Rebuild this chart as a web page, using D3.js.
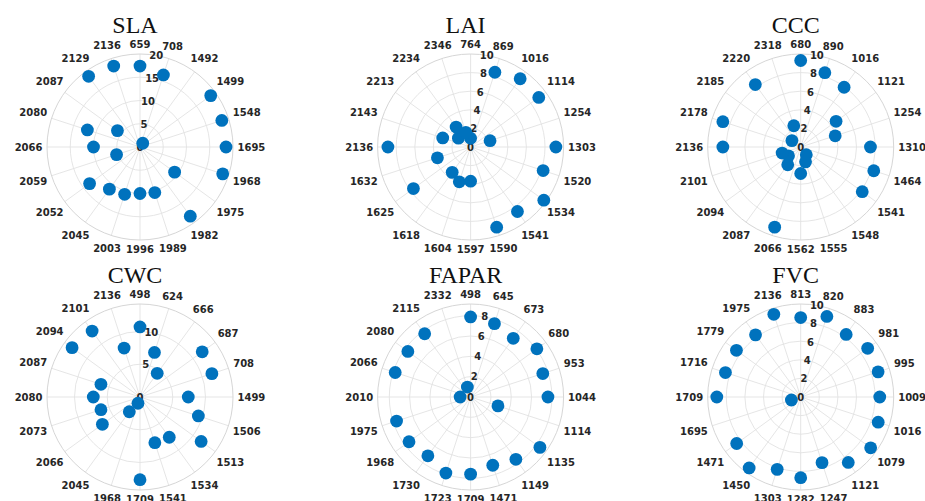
<!DOCTYPE html>
<html>
<head>
<meta charset="utf-8">
<script src="https://cdn.jsdelivr.net/npm/d3@7"></script>
<style>
  html, body { margin: 0; padding: 0; background: #fff; }
  svg { display: block; }
</style>
</head>
<body>
<svg id="chart" width="925" height="501"></svg>
<script>
// Band centres (nm) and per-band scores for each trait
const slaBands = ["659","708","1492","1499","1548","1695","1968","1975","1982","1989","1996","2003","2045","2052","2059","2066","2080","2087","2129","2136"];
const slaValues = [17.4, 16.3, 1.0, 18.8, 18.5, 18.5, 18.7, 9.2, 18.4, 10.3, 10.0, 10.7, 11.2, 13.4, 5.3, 10.0, 11.9, 6.0, 18.8, 18.3];
const slaTicks = [0, 5, 10, 15, 20];

const laiBands = ["764","869","1016","1114","1254","1303","1520","1534","1541","1590","1597","1604","1618","1625","1632","2136","2143","2213","2234","2346"];
const laiValues = [0.94, 8.45, 9.07, 9.06, 2.2, 9.17, 8.2, 9.73, 8.57, 9.07, 3.68, 3.94, 3.37, 7.6, 3.75, 8.89, 3.15, 1.62, 2.65, 1.66];
const laiTicks = [0, 2, 4, 6, 8, 10];

const cccBands = ["680","890","1016","1121","1254","1310","1464","1541","1548","1555","1562","2066","2087","2094","2101","2136","2178","2185","2220","2318"];
const cccValues = [9.3, 8.4, 7.94, 4.7, 3.9, 7.5, 8.26, 8.18, 1.02, 1.68, 2.85, 9.06, 2.37, 1.62, 2.1, 8.37, 8.8, 1.17, 8.3, 2.4];
const cccTicks = [0, 2, 4, 6, 8, 10];

const cwcBands = ["498","624","666","687","708","1499","1506","1513","1534","1541","1709","1968","2045","2066","2073","2080","2087","2094","2101","2136"];
const cwcValues = [10.7, 7.15, 4.47, 11.74, 11.54, 7.37, 9.37, 11.54, 7.6, 7.34, 12.63, 1.0, 2.78, 7.1, 6.27, 7.13, 6.27, 12.82, 12.44, 7.86];
const cwcTicks = [0, 5, 10];

const faparBands = ["498","645","673","680","953","1044","1114","1135","1149","1471","1709","1723","1730","1968","1975","2010","2066","2080","2115","2332"];
const faparValues = [7.88, 7.59, 7.14, 8.06, 7.47, 7.61, 2.83, 8.43, 7.58, 7.06, 7.59, 7.87, 7.15, 7.49, 7.66, 1.03, 7.8, 7.63, 7.69, 1.03];
const faparTicks = [0, 2, 4, 6, 8];

const fvcBands = ["813","820","883","981","995","1009","1016","1079","1121","1247","1282","1303","1450","1471","1695","1709","1716","1779","1975","2136"];
const fvcValues = [8.54, 9.11, 8.32, 8.9, 8.75, 8.5, 8.76, 9.3, 8.7, 7.42, 8.68, 8.18, 9.43, 8.51, 1.05, 9.02, 8.51, 8.54, 8.26, 9.35];
const fvcTicks = [0, 2, 4, 6, 8, 10];

const titles = ["SLA", "LAI", "CCC", "CWC", "FAPAR", "FVC"];
const radialMax = [20, 10, 10, 14.2, 9.15, 10];

const panels = [
  { title: titles[0], bands: slaBands, values: slaValues, ticks: slaTicks, rmax: radialMax[0] },
  { title: titles[1], bands: laiBands, values: laiValues, ticks: laiTicks, rmax: radialMax[1] },
  { title: titles[2], bands: cccBands, values: cccValues, ticks: cccTicks, rmax: radialMax[2] },
  { title: titles[3], bands: cwcBands, values: cwcValues, ticks: cwcTicks, rmax: radialMax[3] },
  { title: titles[4], bands: faparBands, values: faparValues, ticks: faparTicks, rmax: radialMax[4] },
  { title: titles[5], bands: fvcBands, values: fvcValues, ticks: fvcTicks, rmax: radialMax[5] }
];

// Layout of the 3 x 2 grid of polar panels
const centersX = [140, 470.6, 800.7];
const centersY = [147, 397];
const R = 93;
const gridColor = "#e2e2e2";
const spineColor = "#d6d6d6";
const textColor = "#262626";
const dotColor = "#0072BD";
const rLabelAngle = 10 * Math.PI / 180;

const svg = d3.select("#chart");

panels.forEach((p, k) => {
  const cx = centersX[k % 3];
  const cy = centersY[Math.floor(k / 3)];
  const g = svg.append("g").attr("transform", `translate(${cx},${cy})`);

  // angle: clockwise from north, one band every 360/N degrees
  const theta = d3.scaleBand().domain(p.bands).range([0, 2 * Math.PI]).paddingInner(0).paddingOuter(0);
  const r = d3.scaleLinear().domain([0, p.rmax]).range([0, R]);
  const px = (a, rr) => rr * Math.sin(a);
  const py = (a, rr) => -rr * Math.cos(a);

  // spokes
  g.append("g").selectAll("line").data(p.bands).join("line")
    .attr("x1", 0).attr("y1", 0)
    .attr("x2", d => px(theta(d), R))
    .attr("y2", d => py(theta(d), R))
    .attr("stroke", gridColor).attr("stroke-width", 0.9);

  // radial grid circles
  g.append("g").selectAll("circle").data(p.ticks.filter(t => t > 0 && r(t) < R - 0.5)).join("circle")
    .attr("r", d => r(d))
    .attr("fill", "none").attr("stroke", gridColor).attr("stroke-width", 0.9);

  // outer boundary
  g.append("circle").attr("r", R).attr("fill", "none").attr("stroke", spineColor).attr("stroke-width", 1);

  // radial tick labels
  g.append("g").selectAll("text").data(p.ticks).join("text")
    .attr("x", d => px(rLabelAngle, r(d)))
    .attr("y", d => py(rLabelAngle, r(d)))
    .attr("dy", "0.35em")
    .attr("text-anchor", "middle")
    .attr("font-family", "'DejaVu Sans', sans-serif")
    .attr("font-weight", "bold")
    .attr("font-size", 10)
    .attr("fill", textColor)
    .text(d => d);

  // band labels around the rim
  const labels = g.append("g").selectAll("text").data(p.bands).join("text")
    .attr("text-anchor", "middle")
    .attr("dy", "0.35em")
    .attr("font-family", "'DejaVu Sans', sans-serif")
    .attr("font-weight", "bold")
    .attr("font-size", 10)
    .attr("fill", textColor)
    .text(d => d);
  labels.each(function(d) {
    const a = theta(d);
    const w = this.getComputedTextLength();
    const dist = R + 4.5 + (w / 2) * Math.abs(Math.sin(a)) + 5 * Math.abs(Math.cos(a));
    d3.select(this).attr("x", px(a, dist)).attr("y", py(a, dist));
  });

  // markers
  g.append("g").selectAll("circle").data(p.bands.map((b, i) => ({ b, v: p.values[i] }))).join("circle")
    .attr("cx", d => px(theta(d.b), r(d.v)))
    .attr("cy", d => py(theta(d.b), r(d.v)))
    .attr("r", 6.4)
    .attr("fill", dotColor);

  // title
  svg.append("text")
    .attr("x", cx - 5)
    .attr("y", cy - 114.5)
    .attr("text-anchor", "middle")
    .attr("font-family", "'Liberation Serif', 'Times New Roman', serif")
    .attr("font-size", 24)
    .attr("fill", "#111")
    .text(p.title);
});
</script>
</body>
</html>
